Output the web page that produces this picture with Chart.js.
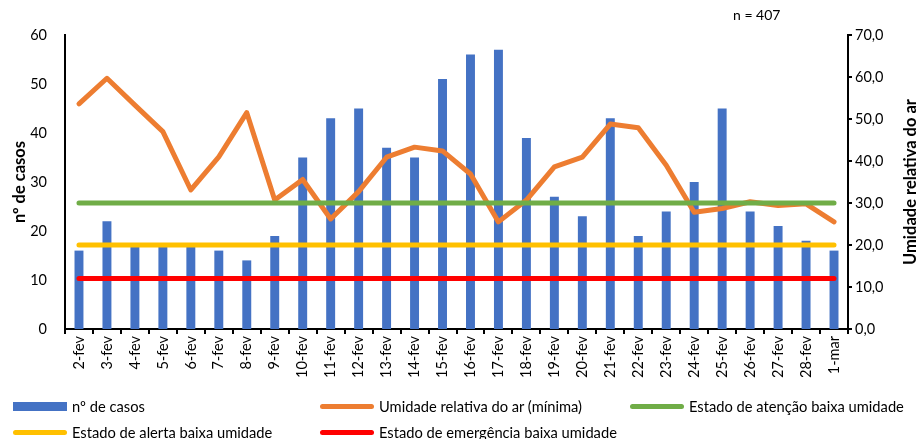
<!DOCTYPE html>
<html>
<head>
<meta charset="utf-8">
<script src="https://cdn.jsdelivr.net/npm/chart.js@4"></script>
<style>
  body { margin: 0; background: #fff; }
  #wrap { position: relative; width: 919px; height: 439px; font-family: Lato, sans-serif; color: #000; }
  #chart { position: absolute; left: 0; top: 0; }
  .note { position: absolute; left: 733px; top: 6px; font-size: 14px; }
  .leg { position: absolute; font-size: 14.7px; white-space: nowrap; display: flex; align-items: center; }
  .leg .sw { display: inline-block; width: 54px; margin-right: 5px; }
</style>
</head>
<body>
<div id="wrap">
  <canvas id="chart" width="919" height="439"></canvas>
  <div class="note">n = 407</div>
  <div id="legend"></div>
</div>
<script>
// Data
const days = ['2-fev','3-fev','4-fev','5-fev','6-fev','7-fev','8-fev','9-fev','10-fev','11-fev','12-fev','13-fev','14-fev','15-fev',
  '16-fev','17-fev','18-fev','19-fev','20-fev','21-fev','22-fev','23-fev','24-fev','25-fev','26-fev','27-fev','28-fev','1-mar'];
const cases = [16,22,17,17,17,16,14,19,35,43,45,37,35,51,56,57,39,27,23,43,19,24,30,45,24,21,18,16];
const humidity = [53.6,59.7,53.3,47.0,33.1,41.0,51.5,30.7,35.6,26.2,32.7,40.9,43.3,42.4,
  36.9,25.5,30.7,38.6,40.9,48.8,47.9,39.0,27.8,28.7,30.3,29.4,29.8,25.5];
const attentionLevel = 30;
const alertLevel = 20;
const emergencyLevel = 12;

const colors = {
  cases: '#4472C4',
  humidity: '#ED7D31',
  attention: '#70AD47',
  alert: '#FFC000',
  emergency: '#FF0000',
};

const flat = v => days.map(() => v);
const lineDs = (label, data, color, order) => ({
  type: 'line', label, data, yAxisID: 'y1', order,
  borderColor: color, backgroundColor: color, borderWidth: 5,
  pointRadius: 0, tension: 0, borderJoinStyle: 'round', borderCapStyle: 'round',
});

const datasets = [
  { type: 'bar', label: 'nº de casos', data: cases, yAxisID: 'y', order: 5,
    backgroundColor: colors.cases, barPercentage: 0.32, categoryPercentage: 1 },
  lineDs('Umidade relativa do ar (mínima)', humidity, colors.humidity, 4),
  lineDs('Estado de atenção baixa umidade', flat(attentionLevel), colors.attention, 3),
  lineDs('Estado de alerta baixa umidade', flat(alertLevel), colors.alert, 2),
  lineDs('Estado de emergência baixa umidade', flat(emergencyLevel), colors.emergency, 1),
];

const font = { family: 'Lato, sans-serif', size: 14.5 };
const titleFont = { family: 'Lato, sans-serif', size: 16.5, weight: 'bold' };
Chart.defaults.color = '#000';

// right axis title reads bottom-to-top like the left one
const rightTitle = {
  id: 'rightTitle',
  afterDraw(chart) {
    const { ctx, chartArea } = chart;
    ctx.save();
    ctx.translate(911, (chartArea.top + chartArea.bottom) / 2);
    ctx.rotate(-Math.PI / 2);
    ctx.font = 'bold 16.5px Lato, sans-serif';
    ctx.fillStyle = '#000';
    ctx.textAlign = 'center';
    ctx.textBaseline = 'middle';
    ctx.fillText('Umidade relativa do ar', 0, 0);
    ctx.restore();
  },
};

new Chart(document.getElementById('chart').getContext('2d'), {
  data: { labels: days, datasets },
  plugins: [rightTitle],
  options: {
    responsive: false,
    animation: false,
    layout: { padding: { top: 35, left: 0, right: 0, bottom: 50 } },
    plugins: { legend: { display: false }, tooltip: { enabled: false } },
    scales: {
      x: {
        offset: true,
        afterFit: s => { s.height = 60; },
        grid: { display: true, drawOnChartArea: false, drawTicks: true, tickLength: 5, color: '#000', lineWidth: 2, offset: true },
        border: { color: '#000', width: 2 },
        ticks: { font, minRotation: 90, maxRotation: 90, autoSkip: false, padding: 2 },
      },
      y: {
        position: 'left', min: 0, max: 60,
        afterFit: s => { s.width = 65; },
        grid: { display: false },
        border: { color: '#000', width: 2 },
        ticks: { font, stepSize: 10, padding: 10 },
        title: { display: true, text: 'nº de casos', font: titleFont, padding: { top: 10, bottom: 0 } },
      },
      y1: {
        position: 'right', min: 0, max: 70,
        afterFit: s => { s.width = 71; },
        grid: { display: true, drawOnChartArea: false, drawTicks: true, tickLength: 4, color: '#000', lineWidth: 2 },
        border: { color: '#000', width: 2 },
        ticks: { font, stepSize: 10, padding: 3, callback: v => v.toFixed(1).replace('.', ',') },
      },
    },
  },
});

// Legend (grid layout as in the reference)
const legendSlots = [[13, 406], [320, 406], [630, 406], [13, 432], [320, 432]];
const legendEl = document.getElementById('legend');
datasets.forEach((ds, i) => {
  const item = document.createElement('div');
  item.className = 'leg';
  item.style.left = legendSlots[i][0] + 'px';
  item.style.top = (legendSlots[i][1] - 9) + 'px';
  const sw = document.createElement('span');
  sw.className = 'sw';
  sw.style.background = ds.backgroundColor;
  if (ds.type === 'bar') { sw.style.height = '9px'; }
  else { sw.style.height = '5px'; sw.style.borderRadius = '3px'; }
  item.appendChild(sw);
  item.appendChild(document.createTextNode(ds.label));
  legendEl.appendChild(item);
});
</script>
</body>
</html>
